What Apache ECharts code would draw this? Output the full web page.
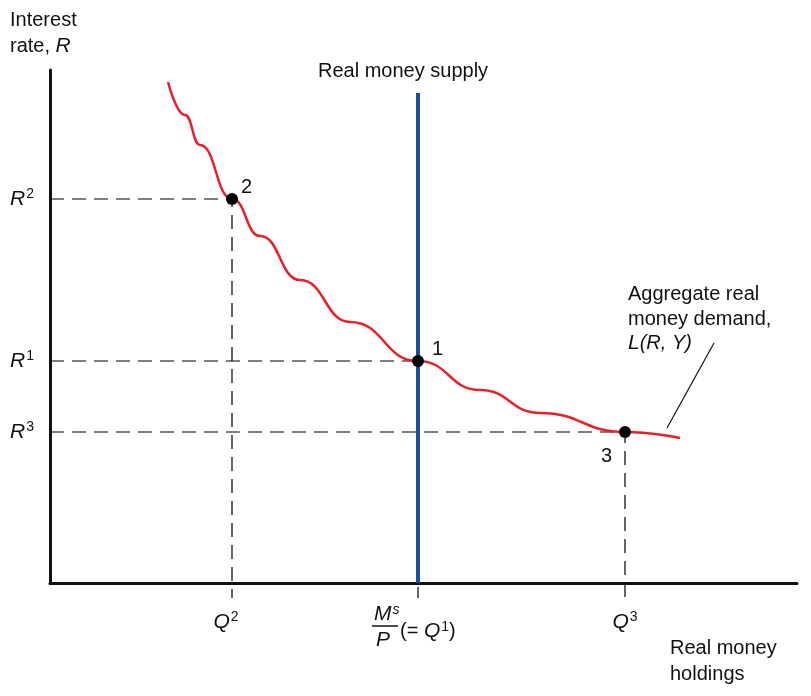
<!DOCTYPE html>
<html><head><meta charset="utf-8">
<script src="https://cdn.jsdelivr.net/npm/echarts@6/dist/echarts.min.js"></script>
<style>html,body{margin:0;background:#fff}#c{width:811px;height:696px}</style>
</head><body><div id="c"></div>
<script>
// demand curve samples (x = money holdings, y = interest rate), chart units
var demandX = [118, 135, 150, 182, 210, 250, 300, 368, 430, 490, 575, 630];
var demandY = [501, 468, 438, 384, 347, 303, 261, 222, 193, 170, 151, 145];
// equilibrium points 1, 2, 3
var pointNames = ['1', '2', '3'];
var pointX = [368, 182, 575];
var pointY = [222, 384, 151];
var supplyX = 368;
var supplyTop = 490;

var F = 'Liberation Sans, Arial, sans-serif';
var chart = echarts.init(document.getElementById('c'));

var dashed = [];
pointX.forEach(function(x, i) {
  dashed.push({ type: 'line', silent: true, clip: false, symbol: 'none', z: 1,
    lineStyle: { color: '#000', width: 1.2, opacity: 1, type: [14, 8] },
    data: [[0, pointY[i]], [x, pointY[i]], [x, -15]] });
});

chart.setOption({
  animation: false,
  grid: { left: 50, top: 70, width: 747, height: 513 },
  xAxis: { type: 'value', min: 0, max: 747, axisLine: { lineStyle: { color: '#111', width: 3 } },
    axisTick: { show: false }, axisLabel: { show: false }, splitLine: { show: false } },
  yAxis: { type: 'value', min: 0, max: 513, axisLine: { show: true, lineStyle: { color: '#111', width: 3 } },
    axisTick: { show: false }, axisLabel: { show: false }, splitLine: { show: false } },
  series: dashed.concat([
    { type: 'line', symbol: 'none', z: 3, lineStyle: { color: '#1a4f9c', width: 4 },
      data: [[supplyX, 0], [supplyX, supplyTop]] },
    { type: 'line', smooth: 0.5, smoothMonotone: 'x', symbol: 'none', z: 4, lineStyle: { color: '#e8202a', width: 2.5 },
      data: demandX.map(function(x, i) { return [x, demandY[i]]; }) },
    { type: 'scatter', z: 5, symbolSize: 12, itemStyle: { color: '#000', opacity: 1 },
      data: pointX.map(function(x, i) { return { value: [x, pointY[i]], name: pointNames[i] }; }) }
  ])
});

function px(x, y) { return chart.convertToPixel({ gridIndex: 0 }, [x, y]); }
function txt(x, y, t, opt) {
  return Object.assign({ type: 'text', x: x, y: y, style: Object.assign({ text: t, font: '20px ' + F, fill: '#111' }, opt || {}) });
}
var sup = { fontSize: 14, verticalAlign: 'top', padding: [0, 0, 9, 1], fontFamily: F };
var base = { fontSize: 21, fontStyle: 'italic', fontFamily: F };
function rich(x, y, letter, n, align) {
  return { type: 'text', x: x, y: y, style: { text: '{a|' + letter + '}{s|' + n + '}', align: align || 'left',
    verticalAlign: 'middle', rich: { a: base, s: sup }, fill: '#111' } };
}
var p1 = px(pointX[0], pointY[0]), p2 = px(pointX[1], pointY[1]), p3 = px(pointX[2], pointY[2]);
var g = [
  txt(10, 10, 'Interest', {}),
  { type: 'text', x: 10, y: 36, style: { text: 'rate, {i|R}', font: '20px ' + F, rich: { i: base }, fill: '#111' } },
  txt(318, 61, 'Real money supply'),
  rich(10, p2[1], 'R', '2'), rich(10, p1[1], 'R', '1'), rich(10, p3[1], 'R', '3'),
  txt(p2[0] + 9, p2[1] - 22, '2'), txt(p1[0] + 14, p1[1] - 22, '1'), txt(p3[0] - 24, p3[1] + 14, '3'),
  rich(p2[0] - 6, 622, 'Q', '2', 'center'), rich(p3[0], 622, 'Q', '3', 'center'),
  { type: 'text', x: 374, y: 603, style: { text: '{a|M}{s|s}', rich: { a: base, s: { fontSize: 14, fontStyle: 'italic', verticalAlign: 'top', padding: [0, 0, 9, 1], fontFamily: F } }, fill: '#111' } },
  { type: 'line', shape: { x1: 372, y1: 626, x2: 398, y2: 626 }, style: { stroke: '#111', lineWidth: 1.5 } },
  { type: 'text', x: 376, y: 630, style: { text: 'P', font: 'italic 21px ' + F, fill: '#111' } },
  { type: 'text', x: 400, y: 620, style: { text: '(= {i|Q}{s|1})', font: '20px ' + F, rich: { i: base, s: sup }, fill: '#111' } },
  txt(628, 284, 'Aggregate real'), txt(628, 309, 'money demand,'),
  { type: 'text', x: 628, y: 333, style: { text: '{i|L}(R, Y)', font: 'italic 20px ' + F, rich: { i: base }, fill: '#111' } },
  { type: 'line', shape: { x1: 667, y1: 428, x2: 714, y2: 343 }, style: { stroke: '#111', lineWidth: 1.2 } },
  txt(670, 638, 'Real money'), txt(670, 664, 'holdings')
];
chart.setOption({ graphic: g });
</script></body></html>
